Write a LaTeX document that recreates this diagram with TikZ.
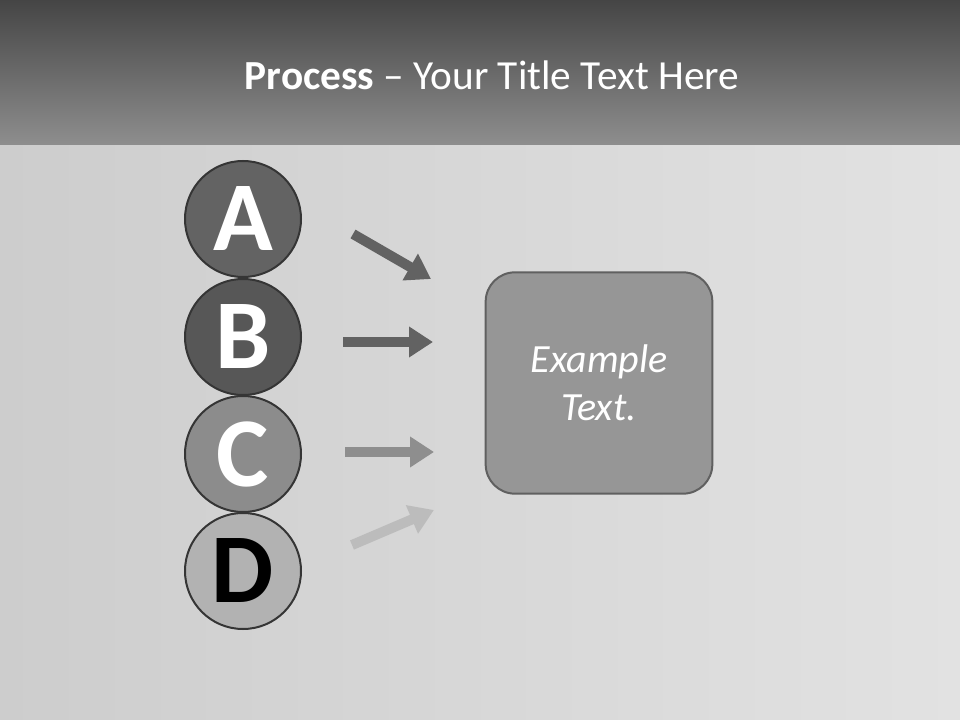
\documentclass[tikz,border=0pt]{standalone}
\usepackage{fontspec}
\setmainfont{Carlito}
\usetikzlibrary{arrows.meta,positioning}
\definecolor{headtop}{HTML}{454545}
\definecolor{headbot}{HTML}{8E8E8E}
\definecolor{bgleft}{HTML}{CDCDCD}
\definecolor{bgright}{HTML}{E2E2E2}
\definecolor{ringgray}{HTML}{353535}
\definecolor{fillA}{HTML}{636363}
\definecolor{fillB}{HTML}{575757}
\definecolor{fillC}{HTML}{8C8C8C}
\definecolor{fillD}{HTML}{B2B2B2}
\definecolor{arrowdark}{HTML}{626262}
\definecolor{arrowmid}{HTML}{8E8E8E}
\definecolor{arrowlight}{HTML}{BCBCBC}
\definecolor{boxfill}{HTML}{969696}
\definecolor{boxline}{HTML}{606060}

\begin{document}
\begin{tikzpicture}[x=0.75pt,y=-0.75pt,
  letter/.style={circle,draw=ringgray,line width=1.5pt,minimum size=87pt,inner sep=0pt,
    font=\fontsize{74}{74}\selectfont\bfseries},
  arr/.style={line width=7.5pt,-{Triangle[width=22pt,length=18pt]}}]
  \useasboundingbox (0,0) rectangle (960,720);
  % background and header band
  \shade[left color=bgleft,right color=bgright] (0,145) rectangle (960,720);
  \shade[top color=headtop,bottom color=headbot] (0,0) rectangle (960,145);
  \node[text=white,font=\fontsize{31}{36}\selectfont] (title) at (492,75) {\textbf{Process} -- Your Title Text Here};
  % letters
  \node[letter,fill=fillA,text=white] (a) at (243,219) {A};
  \node[letter,fill=fillB,text=white] (b) at (243,337) {B};
  \node[letter,fill=fillC,text=white] (c) at (243,454) {C};
  \node[letter,fill=fillD,text=black] (d) at (243,571) {D};
  % target box
  \node[rounded corners=22pt,fill=boxfill,draw=boxline,line width=1.5pt,minimum width=170pt,minimum height=166pt,
    text=white,align=center,font=\fontsize{30}{36}\selectfont\itshape] (box) at (599,383) {Example\\Text.};
  % arrows
  \coordinate (a1) at (353,234); \coordinate (a2) at (431,279);
  \coordinate (b1) at (343,342); \coordinate (b2) at (433,342);
  \coordinate (c1) at (345,452); \coordinate (c2) at (434,452);
  \coordinate (d1) at (352,545); \coordinate (d2) at (434,510);
  \draw[arr,arrowdark] (a1) -- (a2);
  \draw[arr,arrowdark] (b1) -- (b2);
  \draw[arr,arrowmid] (c1) -- (c2);
  \draw[arr,arrowlight] (d1) -- (d2);
\end{tikzpicture}
\end{document}
